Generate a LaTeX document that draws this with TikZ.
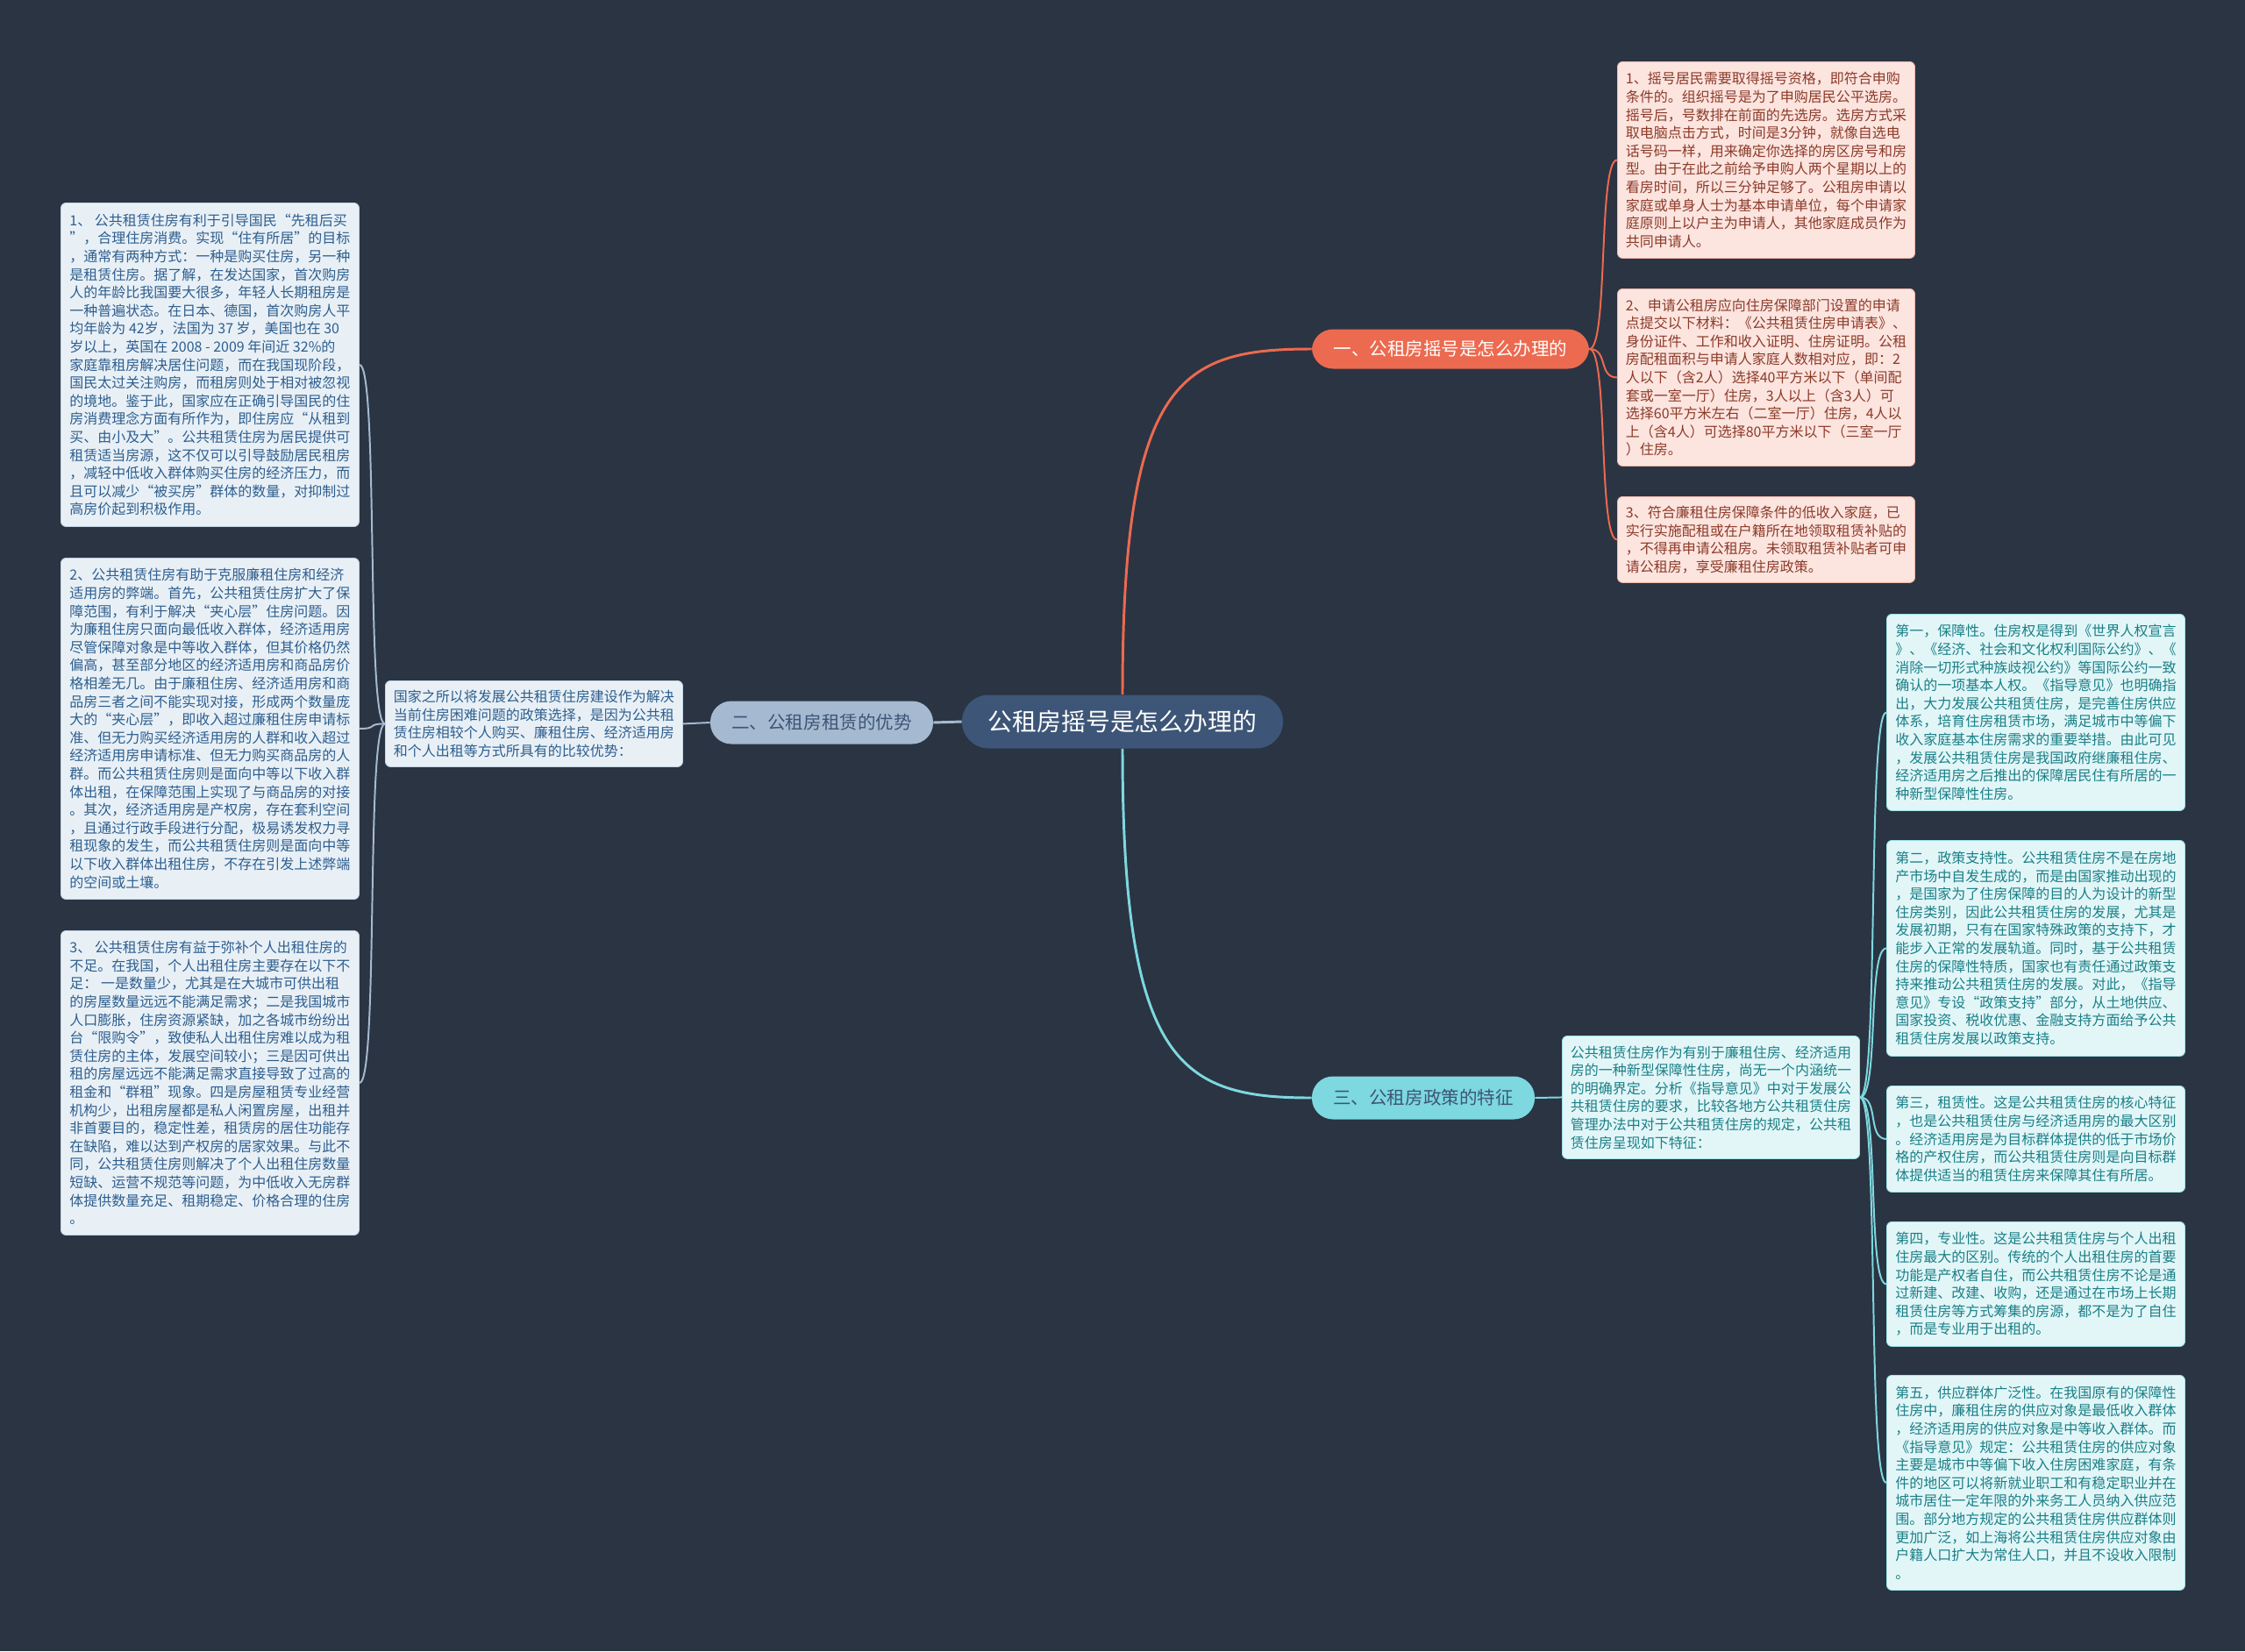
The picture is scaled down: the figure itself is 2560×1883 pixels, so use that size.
\documentclass[tikz,border=0pt]{standalone}
\usepackage{fontspec}
\setmainfont{Noto Sans CJK SC}
\definecolor{bgc}{HTML}{2B3442}
\definecolor{centerc}{HTML}{3D5577}
\definecolor{orangec}{HTML}{EC6A50}
\definecolor{greyc}{HTML}{A5BAD0}
\definecolor{cyanc}{HTML}{7DD8E0}
\definecolor{leftfill}{HTML}{E8F0F6}
\definecolor{leftdraw}{HTML}{C2D3E2}
\definecolor{lefttext}{HTML}{2E5E8E}
\definecolor{pinkfill}{HTML}{FCE4DF}
\definecolor{pinkdraw}{HTML}{F2B8AA}
\definecolor{pinktext}{HTML}{8C3A28}
\definecolor{tealfill}{HTML}{E2F6F8}
\definecolor{tealdraw}{HTML}{9FE3E8}
\definecolor{tealtext}{HTML}{1A7F86}
\newcommand{\leaffont}{\fontsize{11.38}{14.65}\selectfont}
\begin{document}
\begin{tikzpicture}[x=0.025cm,y=-0.025cm,
  leafbox/.style={anchor=north west, rounded corners=0.15cm, align=left, inner xsep=0.16cm, inner ysep=0.2cm, font=\leaffont, line width=0.6pt},
  leafL/.style={leafbox, fill=leftfill, draw=leftdraw, text=lefttext},
  leafR/.style={leafbox, fill=pinkfill, draw=pinkdraw, text=pinktext},
  leafC/.style={leafbox, fill=tealfill, draw=tealdraw, text=tealtext},
  topicnode/.style={rounded corners=0.6cm, inner sep=0pt, font=\fontsize{14.6}{17}\selectfont},
  mainline/.style={line width=2.1pt},
  subline/.style={line width=1.4pt}
]
\useasboundingbox[fill=bgc] (0,0) rectangle (2560,1883);

% central and main topics
\node[fill=centerc, text=white, rounded corners=0.76cm, minimum width=9.15cm, minimum height=1.525cm, inner sep=0pt, font=\fontsize{19.8}{22}\selectfont] (c) at (1280,823) {公租房摇号是怎么办理的};
\node[topicnode, fill=orangec, text=white, minimum width=7.9cm, minimum height=1.125cm] (b1) at (1654,398) {一、公租房摇号是怎么办理的};
\node[topicnode, fill=greyc, text=centerc, minimum width=6.35cm, minimum height=1.225cm] (b2) at (937,824) {二、公租房租赁的优势};
\node[topicnode, fill=cyanc, text=centerc, minimum width=6.35cm, minimum height=1.225cm] (b3) at (1623,1252) {三、公租房政策的特征};

% left leaves
\node[leafL, minimum width=8.5cm, minimum height=9.225cm] (l1) at (69,231) {1、 公共租赁住房有利于引导国民“先租后买\\”，合理住房消费。实现“住有所居”的目标\\，通常有两种方式：一种是购买住房，另一种\\是租赁住房。据了解，在发达国家，首次购房\\人的年龄比我国要大很多，年轻人长期租房是\\一种普遍状态。在日本、德国，首次购房人平\\均年龄为 42岁，法国为 37 岁，美国也在 30\\岁以上，英国在 2008 - 2009 年间近 32\%的\\家庭靠租房解决居住问题，而在我国现阶段，\\国民太过关注购房，而租房则处于相对被忽视\\的境地。鉴于此，国家应在正确引导国民的住\\房消费理念方面有所作为，即住房应“从租到\\买、由小及大”。公共租赁住房为居民提供可\\租赁适当房源，这不仅可以引导鼓励居民租房\\，减轻中低收入群体购买住房的经济压力，而\\且可以减少“被买房”群体的数量，对抑制过\\高房价起到积极作用。};
\node[leafL, minimum width=8.5cm, minimum height=9.725cm] (l2) at (69,636) {2、公共租赁住房有助于克服廉租住房和经济\\适用房的弊端。首先，公共租赁住房扩大了保\\障范围，有利于解决“夹心层”住房问题。因\\为廉租住房只面向最低收入群体，经济适用房\\尽管保障对象是中等收入群体，但其价格仍然\\偏高，甚至部分地区的经济适用房和商品房价\\格相差无几。由于廉租住房、经济适用房和商\\品房三者之间不能实现对接，形成两个数量庞\\大的“夹心层”，即收入超过廉租住房申请标\\准、但无力购买经济适用房的人群和收入超过\\经济适用房申请标准、但无力购买商品房的人\\群。而公共租赁住房则是面向中等以下收入群\\体出租，在保障范围上实现了与商品房的对接\\。其次，经济适用房是产权房，存在套利空间\\，且通过行政手段进行分配，极易诱发权力寻\\租现象的发生，而公共租赁住房则是面向中等\\以下收入群体出租住房，不存在引发上述弊端\\的空间或土壤。};
\node[leafL, minimum width=8.5cm, minimum height=8.675cm] (l3) at (69,1061) {3、 公共租赁住房有益于弥补个人出租住房的\\不足。在我国，个人出租住房主要存在以下不\\足： 一是数量少，尤其是在大城市可供出租\\的房屋数量远远不能满足需求；二是我国城市\\人口膨胀，住房资源紧缺，加之各城市纷纷出\\台“限购令”，致使私人出租住房难以成为租\\赁住房的主体，发展空间较小；三是因可供出\\租的房屋远远不能满足需求直接导致了过高的\\租金和“群租”现象。四是房屋租赁专业经营\\机构少，出租房屋都是私人闲置房屋，出租并\\非首要目的，稳定性差，租赁房的居住功能存\\在缺陷，难以达到产权房的居家效果。与此不\\同，公共租赁住房则解决了个人出租住房数量\\短缺、运营不规范等问题，为中低收入无房群\\体提供数量充足、租期稳定、价格合理的住房\\。};
\node[leafL, minimum width=8.475cm, minimum height=2.45cm] (ml) at (439,776) {国家之所以将发展公共租赁住房建设作为解决\\当前住房困难问题的政策选择，是因为公共租\\赁住房相较个人购买、廉租住房、经济适用房\\和个人出租等方式所具有的比较优势：};

% right top leaves
\node[leafR, minimum width=8.475cm, minimum height=5.6cm] (r1) at (1844,70) {1、摇号居民需要取得摇号资格，即符合申购\\条件的。组织摇号是为了申购居民公平选房。\\摇号后，号数排在前面的先选房。选房方式采\\取电脑点击方式，时间是3分钟，就像自选电\\话号码一样，用来确定你选择的房区房号和房\\型。由于在此之前给予申购人两个星期以上的\\看房时间，所以三分钟足够了。公租房申请以\\家庭或单身人士为基本申请单位，每个申请家\\庭原则上以户主为申请人，其他家庭成员作为\\共同申请人。};
\node[leafR, minimum width=8.475cm, minimum height=5.05cm] (r2) at (1844,329) {2、申请公租房应向住房保障部门设置的申请\\点提交以下材料：《公共租赁住房申请表》、\\身份证件、工作和收入证明、住房证明。公租\\房配租面积与申请人家庭人数相对应，即：2\\人以下（含2人）选择40平方米以下（单间配\\套或一室一厅）住房，3人以上（含3人）可\\选择60平方米左右（二室一厅）住房，4人以\\上（含4人）可选择80平方米以下（三室一厅\\）住房。};
\node[leafR, minimum width=8.475cm, minimum height=2.45cm] (r3) at (1844,566) {3、符合廉租住房保障条件的低收入家庭，已\\实行实施配租或在户籍所在地领取租赁补贴的\\，不得再申请公租房。未领取租赁补贴者可申\\请公租房，享受廉租住房政策。};

% right bottom leaves
\node[leafC, minimum width=8.475cm, minimum height=3.5cm] (m3) at (1781,1181) {公共租赁住房作为有别于廉租住房、经济适用\\房的一种新型保障性住房，尚无一个内涵统一\\的明确界定。分析《指导意见》中对于发展公\\共租赁住房的要求，比较各地方公共租赁住房\\管理办法中对于公共租赁住房的规定，公共租\\赁住房呈现如下特征：};
\node[leafC, minimum width=8.5cm, minimum height=5.6cm] (f1) at (2151,700) {第一，保障性。住房权是得到《世界人权宣言\\》、《经济、社会和文化权利国际公约》、《\\消除一切形式种族歧视公约》等国际公约一致\\确认的一项基本人权。《指导意见》也明确指\\出，大力发展公共租赁住房，是完善住房供应\\体系，培育住房租赁市场，满足城市中等偏下\\收入家庭基本住房需求的重要举措。由此可见\\，发展公共租赁住房是我国政府继廉租住房、\\经济适用房之后推出的保障居民住有所居的一\\种新型保障性住房。};
\node[leafC, minimum width=8.5cm, minimum height=6.15cm] (f2) at (2151,958) {第二，政策支持性。公共租赁住房不是在房地\\产市场中自发生成的，而是由国家推动出现的\\，是国家为了住房保障的目的人为设计的新型\\住房类别，因此公共租赁住房的发展，尤其是\\发展初期，只有在国家特殊政策的支持下，才\\能步入正常的发展轨道。同时，基于公共租赁\\住房的保障性特质，国家也有责任通过政策支\\持来推动公共租赁住房的发展。对此，《指导\\意见》专设“政策支持”部分，从土地供应、\\国家投资、税收优惠、金融支持方面给予公共\\租赁住房发展以政策支持。};
\node[leafC, minimum width=8.5cm, minimum height=3.025cm] (f3) at (2151,1238) {第三，租赁性。这是公共租赁住房的核心特征\\，也是公共租赁住房与经济适用房的最大区别\\。经济适用房是为目标群体提供的低于市场价\\格的产权住房，而公共租赁住房则是向目标群\\体提供适当的租赁住房来保障其住有所居。};
\node[leafC, minimum width=8.5cm, minimum height=3.55cm] (f4) at (2151,1393) {第四，专业性。这是公共租赁住房与个人出租\\住房最大的区别。传统的个人出租住房的首要\\功能是产权者自住，而公共租赁住房不论是通\\过新建、改建、收购，还是通过在市场上长期\\租赁住房等方式筹集的房源，都不是为了自住\\，而是专业用于出租的。};
\node[leafC, minimum width=8.5cm, minimum height=6.125cm] (f5) at (2151,1568) {第五，供应群体广泛性。在我国原有的保障性\\住房中，廉租住房的供应对象是最低收入群体\\，经济适用房的供应对象是中等收入群体。而\\《指导意见》规定：公共租赁住房的供应对象\\主要是城市中等偏下收入住房困难家庭，有条\\件的地区可以将新就业职工和有稳定职业并在\\城市居住一定年限的外来务工人员纳入供应范\\围。部分地方规定的公共租赁住房供应群体则\\更加广泛，如上海将公共租赁住房供应对象由\\户籍人口扩大为常住人口，并且不设收入限制\\。};

% main connectors
\draw[mainline, orangec] (c.north) .. controls +(0,-360) and +(-150,0) .. (b1.west);
\draw[mainline, cyanc] (c.south) .. controls +(0,360) and +(-150,0) .. (b3.west);
\draw[mainline, greyc] (c.west) -- (b2.east);

% sub connectors
\draw[subline, greyc] (b2.west) -- (ml.east);
\foreach \t in {l1,l2,l3}
  \draw[subline, greyc] (ml.west) .. controls +(-22,0) and +(22,0) .. (\t.east);
\foreach \t in {r1,r2,r3}
  \draw[subline, orangec] (b1.east) .. controls +(22,0) and +(-22,0) .. (\t.west);
\draw[subline, cyanc] (b3.east) -- (m3.west);
\foreach \t in {f1,f2,f3,f4,f5}
  \draw[subline, cyanc] (m3.east) .. controls +(22,0) and +(-22,0) .. (\t.west);
\end{tikzpicture}
\end{document}
